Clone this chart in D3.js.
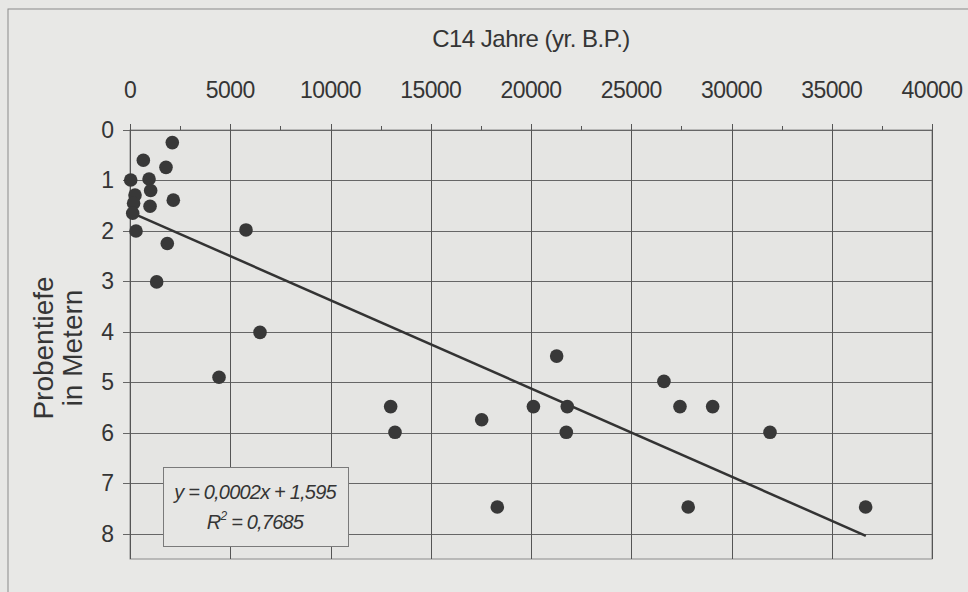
<!DOCTYPE html>
<html><head><meta charset="utf-8">
<script src="https://cdn.jsdelivr.net/npm/d3@7"></script>
<style>
html,body{margin:0;padding:0;background:#e7e7e5;}
svg{display:block;}
text{font-family:"Liberation Sans",Arial,sans-serif;fill:#353535;}
</style></head>
<body>
<svg id="c" width="968" height="592"></svg>
<script>
const xTicks = [0,5000,10000,15000,20000,25000,30000,35000,40000];
const yTicks = [0,1,2,3,4,5,6,7,8];
const years  = [2110,665,1795,35,950,1030,250,2160,1000,180,135,300,1860,1330,5785,6484,4440,13000,13217,17540,21280,20120,21810,21760,18320,26630,27430,29060,31920,27840,36690];
const depths = [0.25,0.6,0.74,0.99,0.97,1.2,1.29,1.39,1.51,1.45,1.65,2.0,2.25,3.01,1.98,4.01,4.9,5.48,5.99,5.74,4.48,5.48,5.48,5.99,7.47,4.98,5.48,5.48,5.99,7.47,7.47];
const trendX = [150,36700];
const trendY = [1.65,8.04];
const xTitle = "C14 Jahre (yr. B.P.)";
const yTitle = ["Probentiefe","in Metern"];
const eq1 = "y = 0,0002x + 1,595";
const eq2 = "= 0,7685";

const svg = d3.select("#c");
const L=130,R=932,T=130,B=559;
const x = d3.scaleLinear().domain([0,40000]).range([L,R]);
const y = d3.scaleLinear().domain([0,8.5]).range([T,B]);

// outer frame
svg.append("rect").attr("x",8).attr("y",9).attr("width",980).attr("height",600)
  .attr("fill","#e8e8e6").attr("stroke","#8a8a8a").attr("stroke-width",1);

// plot area
svg.append("rect").attr("x",L).attr("y",T).attr("width",R-L).attr("height",B-T)
  .attr("fill","#e5e5e3").attr("stroke","#8a8a8a").attr("stroke-width",1);

// gridlines
const g = svg.append("g");
g.selectAll(".hg").data(yTicks).join("line")
  .attr("x1",L-7).attr("x2",R).attr("y1",d=>Math.round(y(d))+0.5).attr("y2",d=>Math.round(y(d))+0.5)
  .attr("stroke","#666").attr("stroke-width",1);
g.selectAll(".vg").data(xTicks).join("line")
  .attr("x1",d=>Math.round(x(d))+0.5).attr("x2",d=>Math.round(x(d))+0.5).attr("y1",T-6).attr("y2",B)
  .attr("stroke","#555").attr("stroke-width",1);
// minor ticks top
const minor = d3.range(2500,40000,5000);
g.selectAll(".mt").data(minor).join("line")
  .attr("x1",d=>Math.round(x(d))+0.5).attr("x2",d=>Math.round(x(d))+0.5).attr("y1",T-4).attr("y2",T)
  .attr("stroke","#555").attr("stroke-width",1);

// axes labels
svg.selectAll(".xt").data(xTicks).join("text")
  .attr("x",d=>x(d)).attr("y",98).attr("text-anchor","middle")
  .attr("font-size",23).attr("letter-spacing",-0.6).text(d=>d);
svg.selectAll(".yt").data(yTicks).join("text")
  .attr("x",114).attr("y",d=>y(d)+8).attr("text-anchor","end")
  .attr("font-size",23).text(d=>d);

svg.append("text").attr("x",531).attr("y",47).attr("text-anchor","middle")
  .attr("font-size",24).attr("letter-spacing",-0.5).text(xTitle);

svg.append("text").attr("transform","translate(53,348) rotate(-90)")
  .attr("text-anchor","middle").attr("font-size",28).text(yTitle[0]);
svg.append("text").attr("transform","translate(82,348) rotate(-90)")
  .attr("text-anchor","middle").attr("font-size",28).text(yTitle[1]);

// trend line
const line = d3.line().x(d=>x(d[0])).y(d=>y(d[1]));
svg.append("path").datum(d3.zip(trendX,trendY)).attr("d",line)
  .attr("stroke","#333").attr("stroke-width",2.5).attr("fill","none");

// points
svg.selectAll(".pt").data(d3.zip(years,depths)).join("circle")
  .attr("cx",d=>x(d[0])).attr("cy",d=>y(d[1])).attr("r",6.8)
  .attr("fill","#383838");

// equation box
svg.append("rect").attr("x",163.5).attr("y",467.5).attr("width",185).attr("height",79)
  .attr("fill","#e6e6e4").attr("stroke","#7a7a7a").attr("stroke-width",1);
svg.append("text").attr("x",255).attr("y",499).attr("text-anchor","middle")
  .attr("font-size",20).attr("font-style","italic").attr("letter-spacing",-0.8).text(eq1);
const t2 = svg.append("text").attr("x",255).attr("y",529).attr("text-anchor","middle")
  .attr("font-size",20).attr("font-style","italic").attr("letter-spacing",-0.8);
t2.append("tspan").text("R");
t2.append("tspan").attr("dy",-9).attr("font-size",12).text("2");
t2.append("tspan").attr("dy",9).text(" " + eq2);
</script>
</body></html>
